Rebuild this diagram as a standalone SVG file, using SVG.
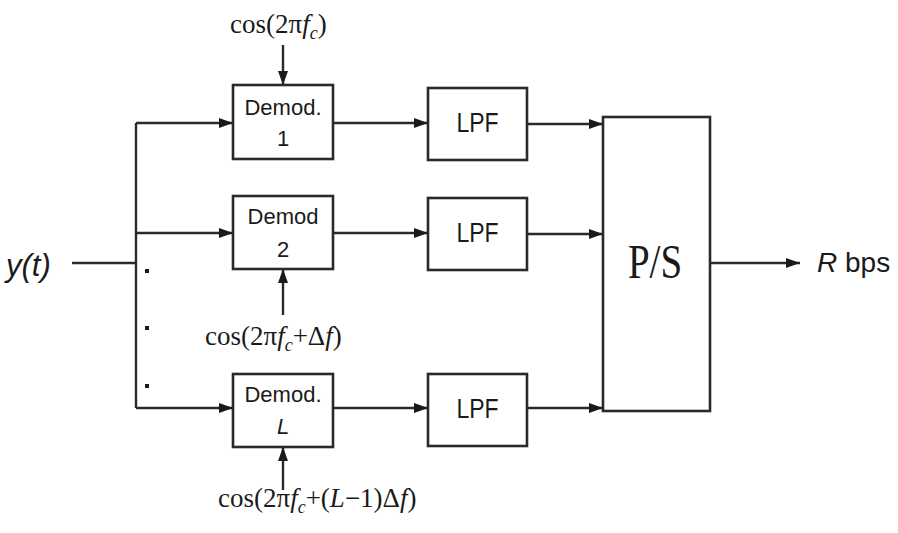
<svg xmlns="http://www.w3.org/2000/svg" width="898" height="533" viewBox="0 0 898 533">
<defs>
<style>
.box{fill:#fff;stroke:#2a2a2a;stroke-width:2.6}
.ln{fill:none;stroke:#2a2a2a;stroke-width:2.4}
.sans{font-family:"Liberation Sans",Arial,sans-serif;fill:#1a1a1a}
.serif{font-family:"Liberation Serif","Times New Roman",serif;fill:#1a1a1a}
.it{font-style:italic}
</style>
<marker id="ah" markerUnits="userSpaceOnUse" markerWidth="16" markerHeight="12" refX="14" refY="6" orient="auto">
<path d="M0,1 L14,6 L0,11 Z" fill="#1a1a1a"/>
</marker>
</defs>
<rect width="898" height="533" fill="#fff"/>
<g id="connectors" class="ln">
<line x1="72" y1="263" x2="136" y2="263"/>
<line x1="136" y1="123" x2="136" y2="408"/>
<line x1="136" y1="123" x2="233" y2="123" marker-end="url(#ah)"/>
<line x1="136" y1="233" x2="233" y2="233" marker-end="url(#ah)"/>
<line x1="136" y1="408" x2="233" y2="408" marker-end="url(#ah)"/>
<line x1="333" y1="123" x2="428" y2="123" marker-end="url(#ah)"/>
<line x1="333" y1="233" x2="428" y2="233" marker-end="url(#ah)"/>
<line x1="333" y1="408" x2="428" y2="408" marker-end="url(#ah)"/>
<line x1="527" y1="124" x2="603" y2="124" marker-end="url(#ah)"/>
<line x1="527" y1="234" x2="603" y2="234" marker-end="url(#ah)"/>
<line x1="527" y1="408" x2="603" y2="408" marker-end="url(#ah)"/>
<line x1="710" y1="263" x2="800" y2="263" marker-end="url(#ah)"/>
<line x1="283" y1="45" x2="283" y2="85" marker-end="url(#ah)"/>
<line x1="283" y1="315" x2="283" y2="269" marker-end="url(#ah)"/>
<line x1="283" y1="490" x2="283" y2="447" marker-end="url(#ah)"/>
</g>
<g id="dots" fill="#1a1a1a">
<rect x="145" y="269" width="4" height="4"/>
<rect x="145" y="326" width="4" height="4"/>
<rect x="145" y="384" width="4" height="4"/>
</g>
<g id="demod1">
<rect class="box" x="233" y="85" width="100" height="74"/>
<text class="sans" x="283" y="115" font-size="22" text-anchor="middle">Demod.</text>
<text class="sans" x="283" y="146" font-size="22" text-anchor="middle" fill="#2a2a5a">1</text>
</g>
<g id="demod2">
<rect class="box" x="233" y="196" width="100" height="73"/>
<text class="sans" x="283" y="224" font-size="22" text-anchor="middle">Demod</text>
<text class="sans" x="283" y="257" font-size="22" text-anchor="middle">2</text>
</g>
<g id="demodL">
<rect class="box" x="233" y="374" width="100" height="73"/>
<text class="sans" x="283" y="402" font-size="22" text-anchor="middle">Demod.</text>
<text class="sans it" x="283" y="434" font-size="22" text-anchor="middle">L</text>
</g>
<g id="lpf1">
<rect class="box" x="428" y="88" width="99" height="72"/>
<text class="sans" transform="translate(477.5,132) scale(1,1.2)" font-size="23" text-anchor="middle">LPF</text>
</g>
<g id="lpf2">
<rect class="box" x="428" y="198" width="99" height="72"/>
<text class="sans" transform="translate(477.5,242) scale(1,1.2)" font-size="23" text-anchor="middle">LPF</text>
</g>
<g id="lpf3">
<rect class="box" x="428" y="374" width="99" height="72"/>
<text class="sans" transform="translate(477.5,418) scale(1,1.2)" font-size="23" text-anchor="middle">LPF</text>
</g>
<g id="ps">
<rect class="box" x="603" y="117" width="107" height="294"/>
<text class="serif" transform="translate(655,278) scale(1,1.22)" font-size="39" text-anchor="middle">P/S</text>
</g>
<g id="input">
<text class="sans it" x="6" y="276" font-size="31">y(t)</text>
</g>
<g id="output">
<text class="sans" x="817" y="272" font-size="28"><tspan class="it">R</tspan> bps</text>
</g>
<g id="carrier1">
<text class="serif" x="230" y="33" font-size="27">cos(2π<tspan class="it">f</tspan><tspan class="it" font-size="18" dy="6">c</tspan><tspan dy="-6">)</tspan></text>
</g>
<g id="carrier2">
<text class="serif" x="205" y="345" font-size="27">cos(2π<tspan class="it">f</tspan><tspan class="it" font-size="18" dy="6">c</tspan><tspan dy="-6">+Δ</tspan><tspan class="it">f</tspan>)</text>
</g>
<g id="carrier3">
<text class="serif" x="218" y="507" font-size="27">cos(2π<tspan class="it">f</tspan><tspan class="it" font-size="18" dy="6">c</tspan><tspan dy="-6">+(</tspan><tspan class="it">L</tspan>−1)Δ<tspan class="it">f</tspan>)</text>
</g>
</svg>
